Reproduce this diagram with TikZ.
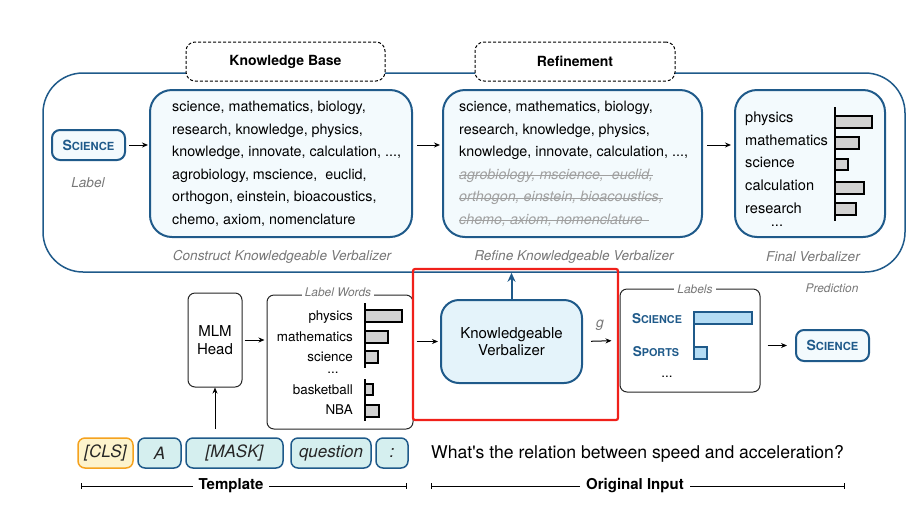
\documentclass[tikz,border=0pt]{standalone}
\usepackage{fontspec}
\setmainfont{TeX Gyre Heros}
\usetikzlibrary{arrows.meta,positioning}

\definecolor{kblue}{HTML}{1F5A8A}
\definecolor{kfill}{HTML}{F3FAFD}
\definecolor{kvfill}{HTML}{E4F3FA}
\definecolor{tokfill}{HTML}{D5EFEF}
\definecolor{clsfill}{HTML}{FDF3CC}
\definecolor{clsline}{HTML}{F5A21E}
\definecolor{barblue}{HTML}{B4DCF4}
\definecolor{capgray}{HTML}{777777}
\definecolor{strikegray}{HTML}{A0A0A0}
\definecolor{hlred}{HTML}{F0201A}

\newcommand{\kvlist}{\fontsize{14.3}{17}\selectfont}
\newcommand{\kvtitle}{\fontsize{14}{17}\selectfont\bfseries}
\newcommand{\kvtok}{\fontsize{17}{20}\selectfont\itshape}
\newcommand{\kvcaps}{\fontsize{14}{17}\selectfont\bfseries}
\newcommand{\kvnote}{\fontsize{13.6}{16}\selectfont\itshape}
\newcommand{\kvsmall}{\fontsize{11.9}{14}\selectfont\itshape}
\newcommand{\kvword}{\fontsize{13.4}{16}\selectfont}
\newcommand{\kvfin}{\fontsize{14.6}{17}\selectfont}
\newcommand{\kvbox}{\fontsize{15}{17.5}\selectfont}
\newcommand{\kvask}{\fontsize{17.6}{20}\selectfont}
\newcommand{\capword}[2]{#1\scalebox{0.8}{#2}}

\begin{document}
\begin{tikzpicture}[x=1pt,y=-1pt,
    kbox/.style={draw=kblue, line width=2pt, fill=kfill, rounded corners=22pt, inner sep=0pt},
    kvshape/.style={draw=kblue, line width=2pt, fill=kvfill, rounded corners=18pt, inner sep=0pt},
    plainbox/.style={draw=black!85, line width=1pt, fill=white, rounded corners=7pt, inner sep=0pt},
    dashbox/.style={draw=black, line width=1pt, densely dashed, fill=white, rounded corners=9pt, font=\kvtitle},
    tokbox/.style={draw=kblue, line width=1.5pt, fill=tokfill, rounded corners=7pt, minimum height=30pt, inner sep=0pt, outer sep=0pt, font=\kvtok, text=black!85},
    labbox/.style={draw=kblue, line width=2pt, fill=kfill, rounded corners=8pt, inner sep=0pt, font=\kvcaps, text=kblue},
    kline/.style={inner sep=0pt, anchor=west, font=\kvlist, text height=10.5pt, text depth=3pt},
    gone/.style={kline, text=strikegray, font=\kvlist\itshape},
    strike/.style={draw=strikegray, line width=0.8pt},
    note/.style={font=\kvnote, text=capgray},
    smallnote/.style={font=\kvsmall, text=capgray, fill=white, inner sep=3pt},
    arr/.style={-{Stealth[length=6pt,width=5pt]}, line width=1pt},
    greybar/.style={draw=black, line width=1.4pt, fill=black!18},
    bluebar/.style={draw=kblue, line width=1.6pt, fill=barblue},
  ]
  \useasboundingbox (0,0) rectangle (923,515);

  % outer frame and the two steps on it
  \node[draw=kblue, line width=1.5pt, rounded corners=40pt, minimum width=862pt, minimum height=199pt, inner sep=0pt] (outer) at (474,172.5) {};
  \node[dashbox, minimum width=199pt, minimum height=39pt] (kbase) at (285.5,61.5) {Knowledge Base};
  \node[dashbox, minimum width=200pt, minimum height=39pt] (refine) at (575,61.5) {Refinement};

  \node[labbox, minimum width=73pt, minimum height=30pt] (label) at (88.5,145) {\capword{S}{CIENCE}};
  \node[note] (labeltxt) at (88,183) {Label};

  %%% construct
  \node[kbox, minimum width=262pt, minimum height=147pt] (kb1) at (281,163.5) {};
  \node[kline] (k1) at (172,108) {science, mathematics, biology,};
  \node[kline] (k2) at (172,130.5) {research, knowledge, physics,};
  \node[kline] (k3) at (172,153) {knowledge, innovate, calculation, ...,};
  \node[kline] (k4) at (172,175.5) {agrobiology, mscience,\ \ euclid,};
  \node[kline] (k5) at (172,198) {orthogon, einstein, bioacoustics,};
  \node[kline] (k6) at (172,220.5) {chemo, axiom, nomenclature};
  \node[note] (capk) at (282,257) {Construct Knowledgeable Verbalizer};

  %%% refine
  \node[kbox, minimum width=259pt, minimum height=147pt] (kr) at (572.5,163.5) {};
  \node[kline] (r1) at (459,108) {science, mathematics, biology,};
  \node[kline] (r2) at (459,130.5) {research, knowledge, physics,};
  \node[kline] (r3) at (459,153) {knowledge, innovate, calculation, ...,};
  \node[gone] (r4) at (459,175.5) {agrobiology, mscience,\ \ euclid,};
  \node[gone] (r5) at (459,198) {orthogon, einstein, bioacoustics,};
  \node[gone] (r6) at (459,220.5) {chemo, axiom, nomenclature};
  \draw[strike] (r4.west) -- (r4.east);
  \draw[strike] (r5.west) -- (r5.east);
  \draw[strike] (r6.west) -- ([xshift=6pt]r6.east);
  \node[note] (capr) at (574,257) {Refine Knowledgeable Verbalizer};

  %%% final
  \node[kbox, minimum width=150pt, minimum height=147pt] (kf) at (810,163.5) {};
  \node[kline, font=\kvfin] (f1) at (745,119) {physics};
  \node[kline, font=\kvfin] (f2) at (745,142) {mathematics};
  \node[kline, font=\kvfin] (f3) at (745,164) {science};
  \node[kline, font=\kvfin] (f4) at (745,187) {calculation};
  \node[kline, font=\kvfin] (f5) at (745,210) {research};
  \node[font=\kvfin, inner sep=0pt] (f6) at (777,226) {...};
  \draw[greybar] (835,116) rectangle (872,128);
  \draw[greybar] (835,137) rectangle (859,149);
  \draw[greybar] (835,159) rectangle (848,170);
  \draw[greybar] (835,182) rectangle (864,194);
  \draw[greybar] (835,203) rectangle (856,215);
  \draw[line width=2pt] (835,107) -- (835,221);
  \node[note] (capf) at (813,257) {Final Verbalizer};

  \draw[arr, shorten <=3pt, shorten >=1pt] (label.east) -- (label.east -| kb1.west);
  \draw[arr, shorten <=4pt, shorten >=2pt] (kb1.east |- label) -- (kr.west |- label);
  \draw[arr, shorten <=4pt, shorten >=3pt] (kr.east |- label) -- (kf.west |- label);

  %%% bottom row
  \node[plainbox, minimum width=54pt, minimum height=94pt, align=center, font=\kvbox] (mlm) at (215,340) {MLM\\Head};

  \node[plainbox, minimum width=146pt, minimum height=134pt] (lw) at (340,362) {};
  \node[smallnote] (lwtitle) at (338,292) {Label Words};
  \node[kline, anchor=east, font=\kvword] (w1) at (353,317) {physics};
  \node[kline, anchor=east, font=\kvword] (w2) at (353,338) {mathematics};
  \node[kline, anchor=east, font=\kvword] (w3) at (353,358) {science};
  \node[font=\kvword, inner sep=0pt] (w4) at (333,373) {...};
  \node[kline, anchor=east, font=\kvword] (w5) at (353,391) {basketball};
  \node[kline, anchor=east, font=\kvword] (w6) at (353,411) {NBA};
  \draw[greybar] (365,310) rectangle (402,322);
  \draw[greybar] (365,331) rectangle (388,343);
  \draw[greybar] (365,351) rectangle (378,363);
  \draw[greybar] (365,384) rectangle (373,395);
  \draw[greybar] (365,405) rectangle (379,417);
  \draw[line width=2pt] (365,303) -- (365,368);
  \draw[line width=2pt] (365,379) -- (365,421);

  \node[kvshape, minimum width=141pt, minimum height=83pt, align=center, font=\kvbox] (kv) at (511.5,341.5) {Knowledgeable\\Verbalizer};

  \node[plainbox, minimum width=140pt, minimum height=103pt] (labels) at (690,340.5) {};
  \node[smallnote] (labtitle) at (695,289) {Labels};
  \node[font=\fontsize{13.5}{16}\selectfont\bfseries, text=kblue] (l1) at (657,319) {\capword{S}{CIENCE}};
  \node[font=\fontsize{13.5}{16}\selectfont\bfseries, text=kblue] (l2) at (656,352) {\capword{S}{PORTS}};
  \node[font=\kvword, inner sep=0pt] (l3) at (667,377) {...};
  \draw[bluebar] (694,312) rectangle (752,324);
  \draw[bluebar] (694,347) rectangle (707,359);
  \draw[draw=kblue, line width=1.6pt] (694,312) -- (694,359);

  \node[note, font=\kvsmall] (predtxt) at (832,288) {Prediction};
  \node[labbox, minimum width=73pt, minimum height=31pt] (pred) at (832.5,345.5) {\capword{S}{CIENCE}};

  \draw[arr, shorten <=2pt, shorten >=2pt] (mlm.east) -- (mlm.east -| lw.west);
  \draw[arr, shorten <=3pt, shorten >=2pt] (lw.east |- kv) -- (kv.west);
  \draw[arr, shorten <=8pt, shorten >=8pt] (kv.east) -- (labels.west);
  \node[note, font=\fontsize{14}{16}\selectfont\itshape] (gtxt) at (600,325) {g};
  \draw[arr, shorten <=7pt, shorten >=8pt] (labels.east |- pred) -- (pred.west);
  \draw[-{Stealth[length=9pt,width=8pt]}, draw=kblue, fill=kblue, line width=2pt] (kv.north) -- (kv.north |- outer.south);

  %%% input tokens
  \node[tokbox, minimum width=55pt, draw=clsline, fill=clsfill] (cls) at (105.5,453) {[CLS]};
  \node[tokbox, minimum width=43pt, right=5pt of cls] (tokA) {A};
  \node[tokbox, minimum width=97pt, right=5pt of tokA] (mask) {[MASK]};
  \node[tokbox, minimum width=80pt, right=8pt of mask] (quest) {question};
  \node[tokbox, minimum width=32pt, right=5pt of quest] (colon) {:};
  \node[anchor=west, inner sep=0pt, font=\kvask] (ask) at (431,454) {What\textquotesingle s the relation between speed and acceleration?};

  \draw[arr, shorten <=9pt] (mlm.south |- mask.north) -- (mlm.south);

  \coordinate (T1) at (81,486);
  \coordinate (T2) at (407,486);
  \coordinate (O1) at (431,486);
  \coordinate (O2) at (845,486);
  \draw[{Bar[width=6pt]}-{Bar[width=6pt]}, line width=0.9pt] (T1) -- (T2);
  \draw[{Bar[width=6pt]}-{Bar[width=6pt]}, line width=0.9pt] (O1) -- (O2);
  \node[fill=white, inner xsep=6pt, font=\kvtitle\fontsize{15}{17}\selectfont] (tmpl) at (231,486) {Template};
  \node[fill=white, inner xsep=6pt, font=\kvtitle\fontsize{15}{17}\selectfont] (orig) at (635,486) {Original Input};

  % highlight
  \coordinate (H1) at (413,269);
  \coordinate (H2) at (618,420);
  \draw[hlred, line width=2.2pt, rounded corners=2pt] (H1) rectangle (H2);
\end{tikzpicture}
\end{document}
